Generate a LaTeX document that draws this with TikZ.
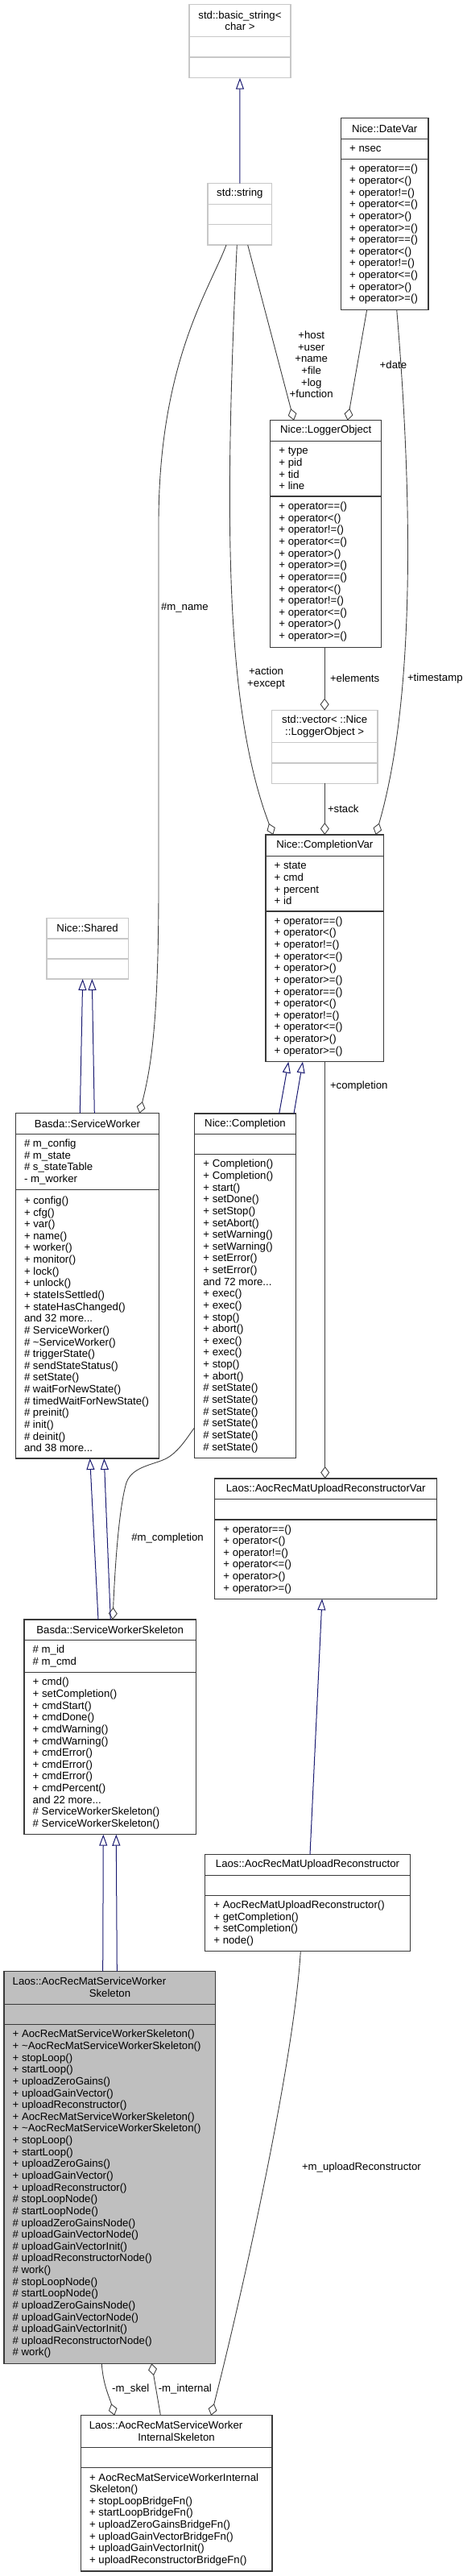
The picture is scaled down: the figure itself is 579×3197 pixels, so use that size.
\documentclass[tikz,border=0pt]{standalone}
\usepackage{fontspec}
\setmainfont{Liberation Sans}
\usetikzlibrary{arrows.meta}
\definecolor{edgegray}{HTML}{404040}
\definecolor{inhblue}{HTML}{191970}
\definecolor{boxline}{HTML}{3A3A3A}
\definecolor{lightbox}{HTML}{C8C8C8}
\definecolor{mainfill}{HTML}{BFBFBF}
\tikzset{
  x=1pt, y=-1pt,
  every node/.style={font=\fontsize{13.2}{14.63}\selectfont, inner sep=0pt, outer sep=0pt},
  cls/.style={draw=boxline, line width=1.2pt, fill=white},
  extcls/.style={draw=lightbox, line width=1.2pt, fill=white},
  maincls/.style={draw=boxline, line width=1.2pt, fill=mainfill},
  inherit/.style={draw=inhblue, line width=1pt, -{Triangle[open,length=14pt,width=10pt]}},
  agg/.style={draw=edgegray, line width=0.9pt, {Diamond[open,length=15pt,width=11pt]}-},
  comp/.style={align=left, anchor=west},
  ttl/.style={align=center},
  elabel/.style={anchor=west},
}
\newcommand\umlbox[8]{%
  \node[#2, anchor=north west, minimum width={#5-#3}, minimum height={#6-#4}] (#1) at (#3,#4) {};
  \draw[#2, fill=none] (#3,#7) -- (#5,#7) (#3,#8) -- (#5,#8);
}
\newcommand\comptext[5]{%
  \node[comp] (#1) at ({#2+10.7}, {(#3+#4)/2}) {#5};
}
\newcommand\myopsix{+ operator==()\\+ operator<()\\+ operator!=()\\+ operator<=()\\+ operator>()\\+ operator>=()}
\newcommand\mnpub{+ AocRecMatServiceWorkerSkeleton()\\+ \textasciitilde AocRecMatServiceWorkerSkeleton()\\+ stopLoop()\\+ startLoop()\\+ uploadZeroGains()\\+ uploadGainVector()\\+ uploadReconstructor()}
\newcommand\mnprot{\# stopLoopNode()\\\# startLoopNode()\\\# uploadZeroGainsNode()\\\# uploadGainVectorNode()\\\# uploadGainVectorInit()\\\# uploadReconstructorNode()\\\# work()}
\begin{document}
\begin{tikzpicture}
\useasboundingbox (0,0) rectangle (579,3197);

% ---------------- boxes ----------------
\umlbox{bstr}{extcls}{235}{5.7}{361}{96.7}{45.7}{71}
\node[ttl] (bstr-t) at (298,25.7) {std::basic\_string<\\char >};

\umlbox{str}{extcls}{258}{227.7}{337.7}{304}{253.3}{278.3}
\node[ttl] (str-t) at (297.85,240.5) {std::string};

\umlbox{dv}{cls}{423.5}{146.7}{532}{384.3}{172.7}{197.7}
\node[ttl] (dv-t) at (477.75,159.7) {Nice::DateVar};
\comptext{dv-a}{423.5}{172.7}{197.7}{+ nsec}
\comptext{dv-m}{423.5}{197.7}{384.3}{\myopsix\\\myopsix}

\umlbox{lo}{cls}{335.7}{521.7}{473.7}{803.3}{547.3}{616}
\node[ttl] (lo-t) at (404.7,534.5) {Nice::LoggerObject};
\comptext{lo-a}{335.7}{547.3}{616}{+ type\\+ pid\\+ tid\\+ line}
\comptext{lo-m}{335.7}{616}{803.3}{\myopsix\\\myopsix}

\umlbox{vec}{extcls}{337.3}{881.7}{469}{972.3}{921.7}{947}
\node[ttl] (vec-t) at (403.15,901.7) {std::vector< ::Nice\\::LoggerObject >};

\umlbox{cv}{cls}{330}{1036}{476.7}{1317.7}{1062.3}{1131}
\node[ttl] (cv-t) at (403.35,1049.15) {Nice::CompletionVar};
\comptext{cv-a}{330}{1062.3}{1131}{+ state\\+ cmd\\+ percent\\+ id}
\comptext{cv-m}{330}{1131}{1317.7}{\myopsix\\\myopsix}

\umlbox{sh}{extcls}{58}{1139.3}{159.3}{1215}{1165}{1190}
\node[ttl] (sh-t) at (108.65,1152.15) {Nice::Shared};

\umlbox{sw}{cls}{19.3}{1381.7}{197.7}{1810}{1407.3}{1476.7}
\node[ttl] (sw-t) at (108.5,1394.5) {Basda::ServiceWorker};
\comptext{sw-a}{19.3}{1407.3}{1476.7}{\# m\_config\\\# m\_state\\\# s\_stateTable\\- m\_worker}
\comptext{sw-m}{19.3}{1476.7}{1810}{+ config()\\+ cfg()\\+ var()\\+ name()\\+ worker()\\+ monitor()\\+ lock()\\+ unlock()\\+ stateIsSettled()\\+ stateHasChanged()\\and 32 more...\\\# ServiceWorker()\\\# \textasciitilde ServiceWorker()\\\# triggerState()\\\# sendStateStatus()\\\# setState()\\\# waitForNewState()\\\# timedWaitForNewState()\\\# preinit()\\\# init()\\\# deinit()\\and 38 more...}

\umlbox{cp}{cls}{241.7}{1382}{367.3}{1809.3}{1407.7}{1432.7}
\node[ttl] (cp-t) at (304.5,1394.85) {Nice::Completion};
\comptext{cp-m}{241.7}{1432.7}{1809.3}{+ Completion()\\+ Completion()\\+ start()\\+ setDone()\\+ setStop()\\+ setAbort()\\+ setWarning()\\+ setWarning()\\+ setError()\\+ setError()\\and 72 more...\\+ exec()\\+ exec()\\+ stop()\\+ abort()\\+ exec()\\+ exec()\\+ stop()\\+ abort()\\\# setState()\\\# setState()\\\# setState()\\\# setState()\\\# setState()\\\# setState()}

\umlbox{urv}{cls}{266.7}{1835}{542.7}{1984.3}{1860.7}{1886}
\node[ttl] (urv-t) at (404.7,1847.85) {Laos::AocRecMatUploadReconstructorVar};
\comptext{urv-m}{266.7}{1886}{1984.3}{\myopsix}

\umlbox{sws}{cls}{30}{2010}{243.3}{2276.7}{2035.3}{2075.7}
\node[ttl] (sws-t) at (136.65,2022.65) {Basda::ServiceWorkerSkeleton};
\comptext{sws-a}{30}{2035.3}{2075.7}{\# m\_id\\\# m\_cmd}
\comptext{sws-m}{30}{2075.7}{2276.7}{+ cmd()\\+ setCompletion()\\+ cmdStart()\\+ cmdDone()\\+ cmdWarning()\\+ cmdWarning()\\+ cmdError()\\+ cmdError()\\+ cmdError()\\+ cmdPercent()\\and 22 more...\\\# ServiceWorkerSkeleton()\\\# ServiceWorkerSkeleton()}

\umlbox{ur}{cls}{254.7}{2301.7}{509.3}{2421.7}{2327.3}{2352.7}
\node[ttl] (ur-t) at (382,2314.5) {Laos::AocRecMatUploadReconstructor};
\comptext{ur-m}{254.7}{2352.7}{2421.7}{+ AocRecMatUploadReconstructor()\\+ getCompletion()\\+ setCompletion()\\+ node()}

\umlbox{mn}{maincls}{5}{2446.7}{267.7}{2933.3}{2487.3}{2512.7}
\node[anchor=west] (mn-t1) at (15.7,2459) {Laos::AocRecMatServiceWorker};
\node[ttl] (mn-t2) at (136.5,2473.7) {Skeleton};
\comptext{mn-m}{5}{2512.7}{2933.3}{\mnpub\\\mnpub\\\mnprot\\\mnprot}

\umlbox{in}{cls}{100.4}{2997.7}{337.9}{3191}{3037.7}{3062.7}
\node[anchor=west] (in-t1) at (110.8,3010) {Laos::AocRecMatServiceWorker};
\node[ttl] (in-t2) at (219,3024.3) {InternalSkeleton};
\comptext{in-m}{100.4}{3062.7}{3191}{+ AocRecMatServiceWorkerInternal\\Skeleton()\\+ stopLoopBridgeFn()\\+ startLoopBridgeFn()\\+ uploadZeroGainsBridgeFn()\\+ uploadGainVectorBridgeFn()\\+ uploadGainVectorInit()\\+ uploadReconstructorBridgeFn()}

% ---------------- edges ----------------
\draw[inherit] (str.north) -- (bstr.south);
\draw[agg] ([xshift=-39.7pt]lo.north) -- ([xshift=9.85pt]str.south);
\draw[agg] ([xshift=27pt]lo.north) -- ([xshift=-22.05pt]dv.south);
\draw[agg] ([xshift=-64.05pt]cv.north) .. controls (280,880) and (278,650) .. ([xshift=-3.55pt]str.south);
\draw[agg] ([xshift=63.35pt]cv.north) .. controls (512,880) and (515,650) .. ([xshift=14.95pt]dv.south);
\draw[agg] (vec.north) -- (vec.north |- lo.south);
\draw[agg] (cv.north) -- (cv.north |- vec.south);
\draw[inherit] ([xshift=42.2pt]cp.north) -- ([xshift=-45.05pt]cv.south);
\draw[inherit] ([xshift=60.5pt]cp.north) -- ([xshift=-27.35pt]cv.south);
\draw[agg] ([xshift=-1pt]urv.north) -- ([xshift=0.35pt]cv.south);
\draw[inherit] ([xshift=-9.2pt]sw.north) -- ([xshift=-5.95pt]sh.south);
\draw[inherit] ([xshift=8.8pt]sw.north) -- ([xshift=5.65pt]sh.south);
\draw[agg] ([xshift=64.8pt]sw.north) .. controls (186,1330) and (197,1280) .. (197,1100) -- (197,650) .. controls (197,450) and (260,360) .. ([xshift=-16.85pt]str.south);
\draw[agg] ([xshift=3.35pt]sws.north) .. controls (143,1940) and (148,1870) .. (157,1840) .. controls (165,1818) and (195,1818) .. (210,1808) .. controls (225,1798) and (235,1780) .. ([yshift=-176.05pt]cp.west);
\draw[inherit] ([xshift=-14.65pt]sws.north) -- ([xshift=3.2pt]sw.south);
\draw[inherit] ([xshift=0.65pt]sws.north) -- ([xshift=20.8pt]sw.south);
\draw[inherit] ([xshift=-8.65pt]mn.north) -- ([xshift=-8.35pt]sws.south);
\draw[inherit] ([xshift=8.95pt]mn.north) -- ([xshift=7.65pt]sws.south);
\draw[inherit] ([xshift=3pt]ur.north) -- ([xshift=-4.7pt]urv.south);
\draw[agg] ([xshift=43.05pt]in.north) .. controls (300,2850) and (365,2560) .. ([xshift=-8.7pt]ur.south);
\draw[agg] ([xshift=-76.95pt]in.north) .. controls (136,2975) and (128,2960) .. ([xshift=-10.05pt]mn.south);
\draw[agg] ([xshift=51.95pt]mn.south) -- ([xshift=-19.75pt]in.north);

% ---------------- edge labels ----------------
\node[ttl] (l-host) at (386.7,452.4) {+host\\+user\\+name\\+file\\+log\\+function};
\node[elabel] (l-date) at (471.7,452.7) {+date};
\node[ttl] (l-action) at (330.5,841.7) {+action\\+except};
\node[elabel] (l-elem) at (410,841.7) {+elements};
\node[elabel] (l-ts) at (506,841.7) {+timestamp};
\node[elabel] (l-stack) at (407,1003.3) {+stack};
\node[elabel] (l-name) at (200,754) {\#m\_name};
\node[elabel] (l-compl) at (410,1348.3) {+completion};
\node[elabel] (l-mcompl) at (163.3,1909) {\#m\_completion};
\node[elabel] (l-upl) at (375,2690) {+m\_uploadReconstructor};
\node[elabel] (l-skel) at (139.2,2965) {-m\_skel};
\node[elabel] (l-int) at (196.8,2965) {-m\_internal};
\end{tikzpicture}
\end{document}
